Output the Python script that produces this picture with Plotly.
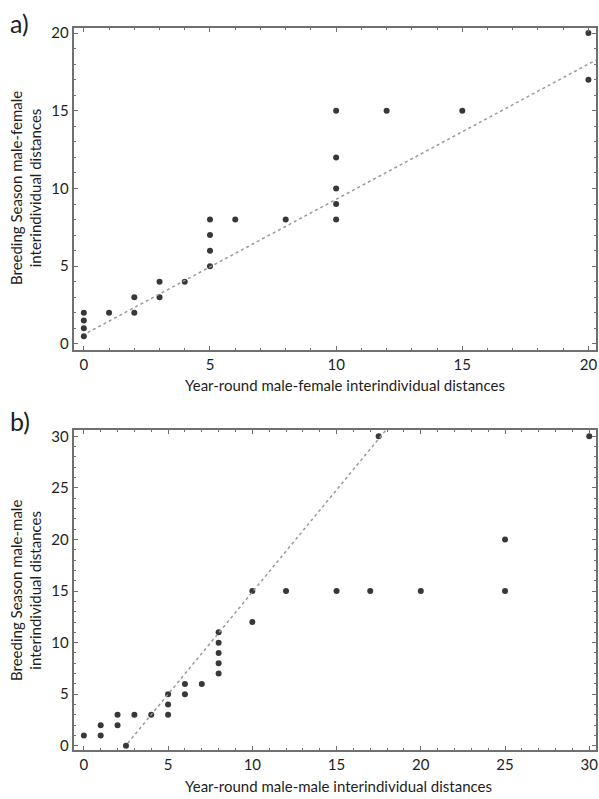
import numpy as np
import plotly.graph_objects as go

# Panel a data: male-female distances
a_x = [0, 0, 0, 0, 1, 2, 2, 3, 3, 4, 5, 5, 5, 5, 6, 8, 10, 10, 10, 10, 10, 12, 15, 20, 20]
a_y = [0.5, 1, 1.5, 2, 2, 2, 3, 3, 4, 4, 5, 6, 7, 8, 8, 8, 8, 9, 10, 12, 15, 15, 15, 20, 17]
a_fit_slope = 0.87
a_fit_intercept = 0.6
a_fit_xrange = [0.15, 20.3]

# Panel b data: male-male distances
b_x = [0, 1, 1, 2, 2, 2.5, 3, 4, 5, 5, 5, 6, 6, 7, 8, 8, 8, 8, 8, 10, 10, 12, 15, 17, 20, 25, 25, 17.5, 30]
b_y = [1, 1, 2, 2, 3, 0, 3, 3, 3, 4, 5, 5, 6, 6, 7, 8, 9, 10, 11, 12, 15, 15, 15, 15, 15, 15, 20, 30, 30]
b_fit_slope = 1.98
b_fit_intercept = -4.9
b_fit_xrange = [2.6, 17.95]

a_xticks = [0, 5, 10, 15, 20]
a_yticks = [0, 5, 10, 15, 20]
b_xticks = [0, 5, 10, 15, 20, 25, 30]
b_yticks = [0, 5, 10, 15, 20, 25, 30]

FONT = "Lato"
TXT = "#1e1e1e"
AX = "#707070"
DOT = "#383838"
W, H = 599, 799

fig = go.Figure()

def fit_line(slope, intercept, xr):
    xs = np.array(xr, dtype=float)
    return xs, intercept + slope * xs

# panel a
fig.add_trace(go.Scatter(x=a_x, y=a_y, mode="markers", xaxis="x", yaxis="y",
                         marker=dict(size=6, color=DOT), showlegend=False, cliponaxis=False))
fx, fy = fit_line(a_fit_slope, a_fit_intercept, a_fit_xrange)
fig.add_trace(go.Scatter(x=fx, y=fy, mode="lines", xaxis="x", yaxis="y",
                         line=dict(color="#999999", width=1.5, dash="dot"), showlegend=False))
# panel b
fig.add_trace(go.Scatter(x=b_x, y=b_y, mode="markers", xaxis="x2", yaxis="y2",
                         marker=dict(size=6, color=DOT), showlegend=False, cliponaxis=False))
fx, fy = fit_line(b_fit_slope, b_fit_intercept, b_fit_xrange)
fig.add_trace(go.Scatter(x=fx, y=fy, mode="lines", xaxis="x2", yaxis="y2",
                         line=dict(color="#999999", width=1.5, dash="dot"), showlegend=False))

def axis(domain, rng, ticks, anchor):
    return dict(domain=domain, range=rng, tickvals=ticks, ticks="inside", ticklen=4,
                tickcolor=AX, tickwidth=1, showline=True, linecolor=AX, linewidth=2,
                mirror="ticks", showgrid=False, zeroline=False, anchor=anchor,
                tickfont=dict(family=FONT, size=15, color=TXT), ticklabeloverflow="allow",
                minor=dict(dtick=1, ticks="inside", ticklen=2, tickcolor=AX, showgrid=False),
                fixedrange=True)

xd = [74 / W, 598 / W]
fig.update_layout(
    width=W, height=H, margin=dict(l=0, r=0, t=0, b=0),
    paper_bgcolor="white", plot_bgcolor="white",
    xaxis=axis(xd, [-0.4, 20.3], a_xticks, "y"),
    yaxis=axis([1 - 349 / H, 1 - 24 / H], [-0.36, 20.34], a_yticks, "x"),
    xaxis2=axis(xd, [-0.6, 30.4], b_xticks, "y2"),
    yaxis2=axis([1 - 754 / H, 1 - 430 / H], [-0.45, 30.64], b_yticks, "x2"),
)

def ann(text, x, y, size, angle=0):
    fig.add_annotation(text=text, x=x / W, y=1 - y / H, xref="paper", yref="paper",
                       showarrow=False, textangle=angle, xanchor="center", yanchor="middle",
                       font=dict(family=FONT, size=size, color=TXT))

ann("a)", 20, 19, 25)
ann("b)", 20, 421, 25)
ann("Year-round male-female interindividual distances", 346, 385, 15)
ann("Year-round male-male interindividual distances", 340, 790, 15)
ann("Breeding Season male-female<br>interindividual distances", 26, 186, 15, -90)
ann("Breeding Season male-male<br>interindividual distances", 26, 592, 15, -90)

fig.write_html("out.html", config={"displayModeBar": False},
               post_script="document.body.style.margin='0';document.body.style.padding='0';")
